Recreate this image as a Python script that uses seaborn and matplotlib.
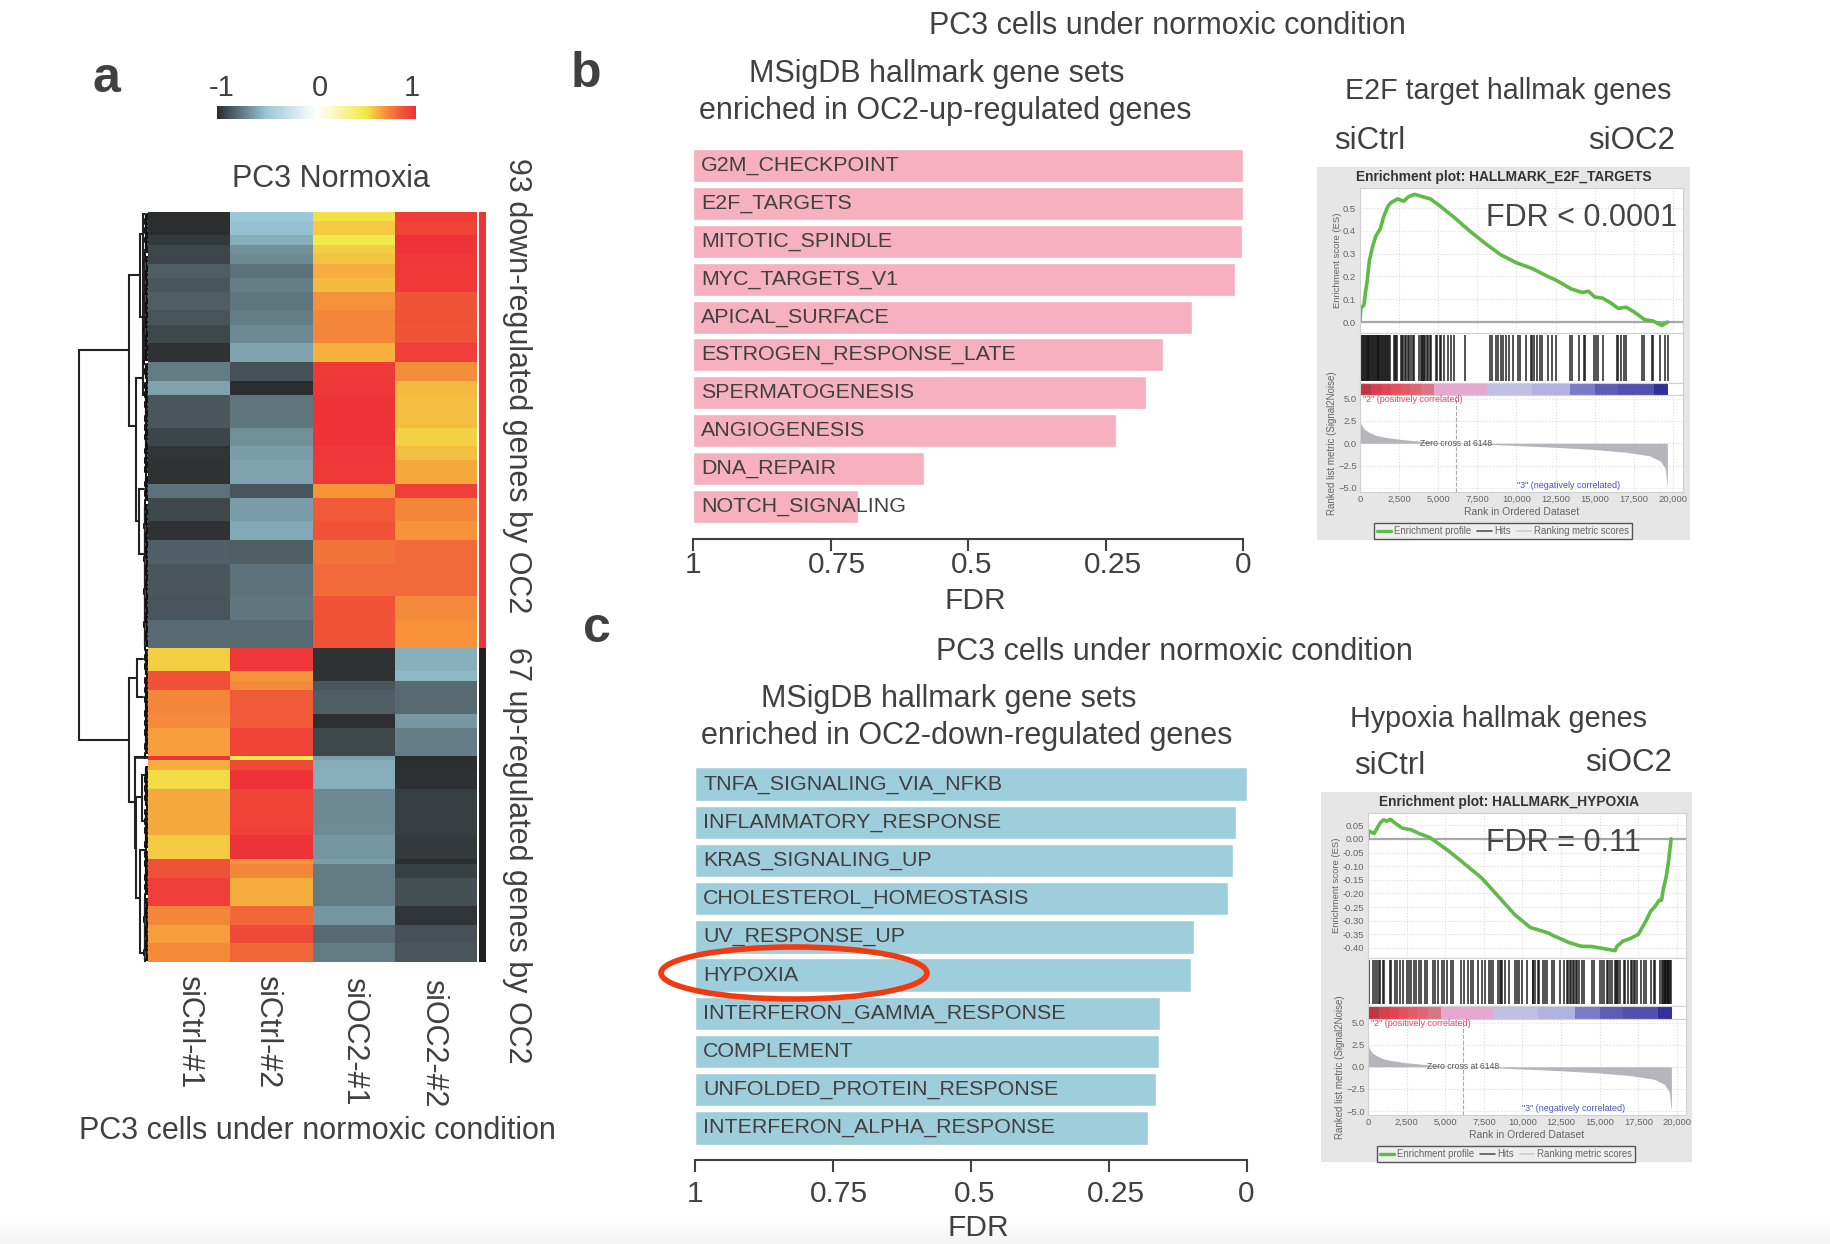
import numpy as np
import pandas as pd
import matplotlib
matplotlib.use("Agg")
import matplotlib.pyplot as plt
import seaborn as sns
from matplotlib.colors import LinearSegmentedColormap, ListedColormap
from matplotlib.lines import Line2D
from matplotlib.patches import Ellipse
from matplotlib.transforms import ScaledTranslation

# heatmap blocks, top to bottom
block_rows = [2, 3, 2, 2, 2, 3, 3, 4, 3, 4, 4,
              4, 3, 7, 4, 3, 5, 3, 5, 4, 5, 7, 5, 6,
              5, 2, 2, 5, 3, 6, 1, 2, 4, 8, 2, 5, 1, 3, 6, 4, 4, 4]
sictrl_1 = [-1, -1, -.96, -.91, -.92, -.84, -.86, -.84, -.87, -.91, -.98,
            -.75, -.62, -.86, -.92, -.97, -.98, -.78, -.91, -.98, -.83, -.86, -.87, -.8,
            .56, .88, .89, .72, .71, .66, 1, .63, .53, .64, .64, .57, .89, .88, .95, .72, .66, .71]
sictrl_2 = [-.5, -.52, -.58, -.68, -.7, -.78, -.74, -.76, -.74, -.7, -.62,
            -.88, -1, -.76, -.68, -.64, -.62, -.87, -.64, -.6, -.84, -.78, -.76, -.8,
            .98, .68, .71, .85, .85, .93, .47, .91, 1, .93, .95, 1, .68, .72, .63, .81, .91, .81]
sioc2_1 = [.52, .57, .49, .56, .58, .63, .6, .69, .72, .72, .62,
           .97, .98, 1, 1, .98, .97, .68, .85, .88, .78, .8, .88, .88,
           -.98, -.98, -.86, -.84, -.99, -.91, -.63, -.59, -.58, -.7, -.69, -.66, -.63, -.75, -.75, -.66, -.8, -.75]
sioc2_2 = [.96, .93, 1, 1, .98, .97, .97, .87, .88, .87, .95,
           .7, .6, .59, .55, .59, .64, .95, .72, .68, .8, .8, .71, .69,
           -.58, -.55, -.8, -.8, -.66, -.74, -1, -1, -.99, -.94, -.94, -.96, -1, -.93, -.89, -.97, -.88, -.86]
sample_names = ["siCtrl-#1", "siCtrl-#2", "siOC2-#1", "siOC2-#2"]
n_down = 93
n_up = 67

# dendrogram brackets: height, top child row, bottom child row, heights of the children
bracket_h = [69, 19, 8.3, 12.3, 5, 9, 19, 11, 13, 12, 5, 5, 6, 8]
bracket_y0 = [29.5, 13.5, 4.6, 35.5, 32.5, 59, 99.4, 95.4, 116.3, 124.7, 0.5, 8, 120, 136]
bracket_y1 = [112.6, 45.7, 22.4, 66, 39, 73, 125.9, 103.4, 135.7, 146.4, 9, 32, 130, 158]
bracket_h0 = [19, 8.3, 5, 5, 3, 4, 11, 5, 0, 6, 3, 3, 3, 3]
bracket_h1 = [19, 12.3, 5, 9, 4, 4, 13, 5, 12, 8, 3, 4, 3, 4]
leaf_start = [0, 9, 32, 36, 56, 62, 93, 99, 116, 118, 127, 136, 146]
leaf_end = [9, 32, 36, 56, 62, 93, 99, 116, 118, 127, 136, 146, 160]
leaf_height = [3.5, 4, 3, 3.5, 3, 4, 3, 3.5, 0, 3.5, 3.5, 3, 4]
leaf_pattern = [1.5, 3, 2, 4, 1, 3.5, 2.5]

# bar charts
up_sets = ["G2M_CHECKPOINT", "E2F_TARGETS", "MITOTIC_SPINDLE", "MYC_TARGETS_V1", "APICAL_SURFACE",
           "ESTROGEN_RESPONSE_LATE", "SPERMATOGENESIS", "ANGIOGENESIS", "DNA_REPAIR", "NOTCH_SIGNALING"]
up_fdr = [0, 0, .002, .015, .093, .145, .176, .231, .58, .70]
down_sets = ["TNFA_SIGNALING_VIA_NFKB", "INFLAMMATORY_RESPONSE", "KRAS_SIGNALING_UP", "CHOLESTEROL_HOMEOSTASIS",
             "UV_RESPONSE_UP", "HYPOXIA", "INTERFERON_GAMMA_RESPONSE", "COMPLEMENT",
             "UNFOLDED_PROTEIN_RESPONSE", "INTERFERON_ALPHA_RESPONSE"]
down_fdr = [0, .019, .025, .034, .095, .10, .157, .159, .165, .178]
fdr_ticks = [0, .25, .5, .75, 1]
fdr_labels = ["1", "0.75", "0.5", "0.25", "0"]
fdr_label_shift = [0, 6, 4, 7, 0]

# enrichment plots
e2f_rank = [0, 50, 250, 350, 450, 600, 800, 1000, 1300, 1500, 1800, 2000, 2400, 2800, 3100, 3500, 4000, 4500, 5000,
            6000, 7000, 8000, 9000, 10000, 11000, 12000, 12500, 13500, 14200, 14600, 15000, 15500, 16000, 16500,
            17000, 17500, 18200, 18700, 19300, 19650]
e2f_es = [0, .06, .075, .13, .175, .27, .33, .375, .41, .46, .51, .525, .54, .53, .55, .56, .55, .54, .515,
          .46, .40, .345, .295, .26, .235, .20, .185, .145, .13, .135, .11, .105, .085, .06,
          .065, .045, .01, .005, -.015, 0]
e2f_hits = [60, 120, 180, 240, 300, 360, 420, 480, 540, 600, 650, 720, 780, 820, 880, 940, 1000, 1060, 1120, 1180,
            1240, 1300, 1360, 1420, 1480, 1540, 1600, 1660, 1720, 1780, 1840, 1900, 2150, 2220, 2280, 2350, 2600,
            2680, 2750, 2850, 2950, 3050, 3120, 3250, 3400, 3480, 3800, 3870, 3950, 4020, 4100, 4170, 4250, 4350,
            4450, 4550, 4850, 4950, 5100, 5200, 5350, 5600, 5800, 6000, 6700, 8300, 8450, 8700, 8850, 9000, 9150,
            9300, 9500, 9800, 10100, 10250, 10600, 10900, 11000, 11150, 11300, 11500, 11600, 12000, 12250, 12500,
            13400, 13550, 14000, 14300, 14350, 14950, 15050, 15200, 15500, 16400, 16500, 16650, 16900, 17000,
            18000, 18150, 18650, 18750, 19200, 19500, 19650]
hyp_rank = [0, 30, 200, 400, 600, 800, 1000, 1200, 1450, 1700, 2200, 2800, 3300, 4000, 4500, 5190, 6000, 7350, 8500,
            9500, 10500, 11670, 12000, 13000, 13800, 14500, 15000, 15500, 16000, 16100, 16500, 17000, 17500, 17800,
            18000, 18300, 18590, 18850, 19000, 19130, 19300, 19460, 19560, 19620]
hyp_es = [0, .03, .025, .02, .04, .06, .07, .065, .072, .06, .04, .033, .02, .005, -.015, -.043, -.08, -.143, -.215,
          -.278, -.325, -.345, -.355, -.38, -.394, -.395, -.40, -.405, -.41, -.395, -.375, -.365, -.35, -.32,
          -.30, -.265, -.247, -.225, -.225, -.18, -.14, -.08, -.03, 0]
hyp_hits = [40, 350, 450, 600, 680, 800, 950, 1050, 1400, 1500, 1750, 1900, 2050, 2250, 2500, 2650, 2800, 3000, 3100,
            3300, 3450, 3700, 3850, 4200, 4350, 4500, 4800, 4950, 5100, 5400, 5500, 6000, 6200, 6500, 6650, 6800,
            7100, 7400, 7550, 7800, 7950, 8100, 8400, 8550, 8600, 8650, 8900, 9100, 9500, 9650, 9800, 10000, 10300,
            10650, 10700, 10800, 11000, 11100, 11300, 11450, 11600, 11900, 12050, 12400, 12700, 12850, 12950, 13050,
            13150, 13250, 13350, 13450, 13550, 13650, 13850, 14000, 14500, 14650, 15000, 15150, 15300, 15450, 15550,
            15650, 15800, 16000, 16050, 16100, 16200, 16300, 16550, 16650, 16800, 17000, 17100, 17200, 17300, 17400,
            17700, 17850, 18000, 18300, 18500, 18550, 18900, 19000, 19100, 19150, 19200, 19250, 19300, 19350, 19400,
            19450, 19500, 19550, 19600]
band_left = [0, 300, 700, 1400, 2000, 2600, 3200, 3900, 4700, 8100, 11000, 13400, 15000, 16500, 18800]
band_right = [300, 700, 1400, 2000, 2600, 3200, 3900, 4700, 8100, 11000, 13400, 15000, 16500, 18800, 19650]
band_colors = ["#c9303f", "#b83a48", "#d8404f", "#e04556", "#e64f5e", "#e25a68", "#df6575", "#d97585",
               "#e6a8d0", "#c0c0e4", "#b2b2de", "#7a7ac8", "#5c5cb4", "#5252ae", "#30309c"]
metric_rank = [0, 100, 300, 600, 1000, 1500, 2500, 4000, 5000, 6148, 8000, 10000, 12500, 15000, 17000, 18500, 19200,
               19500, 19640]
metric_val = [2.5, 2, 1.55, 1.2, .9, .7, .45, .2, .08, 0, -.1, -.25, -.45, -.7, -1, -1.4, -2, -2.8, -5]

W, H = 1830, 1244
INK = "#404040"
BIG = 22

sns.set_theme(style="white")
plt.rcParams["font.family"] = ["Liberation Sans", "DejaVu Sans"]
plt.rcParams["text.color"] = INK
plt.rcParams["axes.labelcolor"] = INK
plt.rcParams["xtick.color"] = INK
plt.rcParams["ytick.color"] = INK

fig = plt.figure(figsize=(W / 100, H / 100), dpi=100, facecolor="white")


def px_axes(left, top, right, bottom, **kw):
    return fig.add_axes([left / W, 1 - bottom / H, (right - left) / W, (bottom - top) / H], **kw)


def ptext(x, y, s, size=BIG, **kw):
    kw.setdefault("ha", "center")
    kw.setdefault("va", "center")
    fig.text(x / W, 1 - y / H, s, fontsize=size, **kw)


# faint shadow at the bottom edge of the screenshot
shade_ax = px_axes(0, 1215, W, H)
shade_ax.imshow([[1.0], [0.955]], cmap="gray", vmin=0, vmax=1, aspect="auto", interpolation="bicubic")
shade_ax.axis("off")

# panel a
cmap = LinearSegmentedColormap.from_list(
    "expr",
    [(0, "#2b2d2e"), (.25, "#9ac8d8"), (.5, "#ffffff"), (.75, "#f2ea48"), (.84, "#f6963a"), (.925, "#f05a38"), (1, "#ee3338")],
)
expr = pd.DataFrame({
    sample_names[0]: np.repeat(sictrl_1, block_rows),
    sample_names[1]: np.repeat(sictrl_2, block_rows),
    sample_names[2]: np.repeat(sioc2_1, block_rows),
    sample_names[3]: np.repeat(sioc2_2, block_rows),
})
heat_ax = px_axes(148, 212, 477, 962)
cbar_ax = px_axes(217, 106, 416, 119)
sns.heatmap(expr, ax=heat_ax, cmap=cmap, vmin=-1, vmax=1, xticklabels=False, yticklabels=False,
            cbar_ax=cbar_ax, cbar_kws={"orientation": "horizontal"})
heat_ax.collections[0].colorbar.outline.set_visible(False)
cbar_ax.set_xticks([])
ptext(222, 88, "-1", 21)
ptext(320, 88, "0", 21)
ptext(412, 88, "1", 21)

side_ax = px_axes(479, 212, 486, 962)
sns.heatmap(np.array([[1]] * n_down + [[0]] * n_up), ax=side_ax, cmap=ListedColormap(["#231f20", "#ee3338"]),
            cbar=False, xticklabels=False, yticklabels=False)

dend_ax = px_axes(70, 212, 148, 962)
dend_ax.set_xlim(78, 0)
dend_ax.set_ylim(160, 0)
dend_ax.axis("off")
for h, y0, y1, h0, h1 in zip(bracket_h, bracket_y0, bracket_y1, bracket_h0, bracket_h1):
    dend_ax.plot([h0, h, h, h1], [y0, y0, y1, y1], color="#222222", lw=1.5, solid_joinstyle="miter")
for start, end, h in zip(leaf_start, leaf_end, leaf_height):
    if h == 0:
        dend_ax.hlines([start + .5], 0, 13, color="#222222", lw=1.2)
        continue
    rows = np.arange(start, end) + .5
    for i, r in enumerate(rows):
        tip = min(h, leaf_pattern[(i + start) % len(leaf_pattern)])
        dend_ax.plot([0, tip, tip], [r, r, r + 1], color="#111111", lw=1.4)
    dend_ax.vlines(h, start + .5, end - .5, color="#222222", lw=.9)
    dend_ax.vlines(1.6, start + .5, end - .5, color="#111111", lw=1.8)

ptext(106, 79, "a", 36, fontweight="bold")
ptext(331, 179, "PC3 Normoxia")
ptext(517, 386, "93 down-regulated genes by OC2", rotation=270)
ptext(517, 855, "67 up-regulated genes by OC2", rotation=270)
for x, top, name in zip([189, 267, 354, 433], [975, 975, 977, 979], sample_names):
    ptext(x, top, name, rotation=270, va="top")
ptext(317, 1131, "PC3 cells under normoxic condition")


def fdr_bars(names, fdr, color, left, right, top, axis_y, row_h, pad, labelpad):
    ax = px_axes(left, top, right, axis_y)
    table = pd.DataFrame({"name": names, "score": 1 - np.array(fdr)})
    sns.barplot(data=table, x="score", y="name", ax=ax, color=color, saturation=1, width=.87, orient="h")
    ax.set_xlim(0, 1)
    ax.set_ylim((axis_y - top) / row_h - .5, -.5)
    ax.set_xticks(fdr_ticks, fdr_labels, fontsize=21.5)
    ax.set_yticks([])
    ax.set_xlabel("FDR", fontsize=21.5, labelpad=labelpad, x=.513)
    ax.set_ylabel("")
    ax.tick_params(axis="x", length=8.5, width=1.5, pad=pad, bottom=True)
    sns.despine(ax=ax, left=True)
    ax.spines["bottom"].set_linewidth(1.5)
    ax.spines["bottom"].set_color(INK)
    ax.patch.set_alpha(0)
    for i, name in enumerate(names):
        ax.text(.015, i, name, fontsize=15.4, va="center", ha="left", clip_on=False)
    # mid tick labels sit a little right of their ticks in the original
    for lab, dx in zip(ax.get_xticklabels(), fdr_label_shift):
        lab.set_transform(lab.get_transform() + ScaledTranslation(dx / 100, 0, fig.dpi_scale_trans))
    return ax


fdr_bars(up_sets, up_fdr, "#f6b0c0", 693, 1243, 146.5, 539, 37.9, .5, 5.5)
fdr_bars(down_sets, down_fdr, "#9ecddc", 695, 1246.5, 765, 1160, 38.2, 6, 4)

ptext(1167, 26, "PC3 cells under normoxic condition")
ptext(937, 74, "MSigDB hallmark gene sets")
ptext(945, 111, "enriched in OC2-up-regulated genes")
ptext(1508, 91, "E2F target hallmak genes", 20.6)
ptext(1370, 141, "siCtrl", 22.5)
ptext(1632, 141, "siOC2", 22.5)
ptext(586, 74, "b", 36, fontweight="bold")

ptext(1174, 652, "PC3 cells under normoxic condition")
ptext(949, 699, "MSigDB hallmark gene sets")
ptext(967, 736, "enriched in OC2-down-regulated genes")
ptext(1499, 719, "Hypoxia hallmak genes", 20.7)
ptext(1390, 766, "siCtrl", 22.5)
ptext(1629, 763, "siOC2", 22.5)
ptext(597, 629, "c", 36, fontweight="bold")

fig.add_artist(Ellipse((794 / W, 1 - 973 / H), 266 / W, 52 / H, fill=False, edgecolor="#f03a10", linewidth=4,
                       transform=fig.transFigure, zorder=10))


def gsea_panel(panel, xs, ys, title, rank, es, hits, xmax, es_lim, es_ticks, es_fmt, fdr_text, fdr_xy, legend_xy):
    left, top, right, bottom = panel
    bg = px_axes(left, top, right, bottom)
    bg.set_facecolor("#e6e6e6")
    bg.set_xticks([])
    bg.set_yticks([])
    sns.despine(ax=bg, left=True, bottom=True)
    ptext((xs[0] + xs[1]) / 2 - 18, top + 10, title, 9.9, fontweight="bold", color="#333333")

    # enrichment score curve
    ax = px_axes(xs[0], ys[0], xs[1], ys[1])
    sns.lineplot(x=rank, y=es, ax=ax, color="#5fbb46", lw=2.6, errorbar=None, sort=False)
    ax.axhline(0, color="#a8a8a8", lw=1.6, zorder=1)
    ax.set_xlim(0, xmax)
    ax.set_ylim(*es_lim)
    ax.set_yticks(es_ticks, [es_fmt % t for t in es_ticks], fontsize=6.8, color="#666666")
    ax.set_xticks(np.array([2500, 5000, 7500, 10000, 12500, 15000, 17500, 20000]), [])
    ax.set_ylabel("Enrichment score (ES)", fontsize=6.8, color="#666666")
    ax.yaxis.set_label_coords(-.057 if es_fmt == "%.1f" else -.086, .5)
    ax.grid(color="#dddddd", ls=":", lw=.8)
    ax.tick_params(axis="both", length=0, pad=3)

    # hit marks
    hit_ax = px_axes(xs[0], ys[1], xs[1], ys[2])
    hit_ax.vlines(hits, .04, .96, color="#111111", lw=1.2, alpha=.85)
    hit_ax.set_xlim(0, xmax)
    hit_ax.set_ylim(0, 1)
    hit_ax.set_xticks([])
    hit_ax.set_yticks([])

    # ranking colour band
    band_ax = px_axes(xs[0], ys[2], xs[1], ys[3])
    band_ax.barh(0, np.array(band_right) - np.array(band_left), left=band_left, height=1, color=band_colors, lw=0)
    band_ax.set_xlim(0, xmax)
    band_ax.set_ylim(-.5, .5)
    band_ax.set_xticks([])
    band_ax.set_yticks([])

    # ranked list metric
    met_ax = px_axes(xs[0], ys[3], xs[1], ys[4])
    met_ax.fill_between(metric_rank, metric_val, 0, color="#b5b5bb", lw=0)
    met_ax.axvline(6148, color="#aaaaaa", ls="--", lw=.8)
    met_ax.set_xlim(0, xmax)
    met_ax.set_ylim(-5.45, 5.4)
    met_ax.set_yticks([5, 2.5, 0, -2.5, -5], ["5.0", "2.5", "0.0", "\u22122.5", "\u22125.0"], fontsize=6.8, color="#666666")
    met_ax.set_xticks([0, 2500, 5000, 7500, 10000, 12500, 15000, 17500, 20000],
                      ["0", "2,500", "5,000", "7,500", "10,000", "12,500", "15,000", "17,500", "20,000"],
                      fontsize=6.8, color="#666666")
    met_ax.set_xlabel("Rank in Ordered Dataset", fontsize=7.5, color="#666666", labelpad=2.5)
    met_ax.set_ylabel("Ranked list metric (Signal2Noise)", fontsize=7, color="#666666")
    met_ax.yaxis.set_label_coords(-.072 if es_fmt == "%.1f" else -.073, .5)
    met_ax.grid(color="#dddddd", ls=":", lw=.8)
    met_ax.tick_params(axis="both", length=0, pad=2)
    met_ax.text(200, 4.9, "\"2\" (positively correlated)", fontsize=6.5, color="#e0475a", va="center")
    met_ax.text(6130, 0, "Zero cross at 6148", fontsize=6.2, color="#555555", ha="center", va="center")
    met_ax.text(13300, -4.7, "\"3\" (negatively correlated)", fontsize=6.5, color="#4a55b0", ha="center", va="center")

    for a in [ax, hit_ax, band_ax, met_ax]:
        a.patch.set_facecolor("white")
        for s in a.spines.values():
            s.set_visible(True)
            s.set_color("#d0d0d0")
            s.set_linewidth(.8)

    ptext(fdr_xy[0], fdr_xy[1], fdr_text, 22, color="#444444", zorder=8)
    handles = [Line2D([], [], color="#5fbb46", lw=2.4), Line2D([], [], color="#555555", lw=1.2),
               Line2D([], [], color="#cccccc", lw=1.2)]
    fig.legend(handles, ["Enrichment profile", "Hits", "Ranking metric scores"], ncol=3, fontsize=6.9,
               loc="center", bbox_to_anchor=(legend_xy[0] / W, 1 - legend_xy[1] / H), fancybox=False,
               edgecolor="#555555", facecolor="#eeeeee", framealpha=1, borderpad=.3, handlelength=1.5,
               handletextpad=.3, columnspacing=.6, labelcolor="#666666")


gsea_panel((1317, 167, 1690, 540), (1360, 1683), (188, 333, 383, 395, 492), "Enrichment plot: HALLMARK_E2F_TARGETS",
           e2f_rank, e2f_es, e2f_hits, 20640, (-.048, .588), [0, .1, .2, .3, .4, .5], "%.1f",
           "FDR < 0.0001", (1582, 218), (1503, 531))
gsea_panel((1321, 792, 1692, 1162), (1368, 1686), (813, 958, 1006, 1019, 1115), "Enrichment plot: HALLMARK_HYPOXIA",
           hyp_rank, hyp_es, hyp_hits, 20584, (-.437, .095),
           [.05, 0, -.05, -.1, -.15, -.2, -.25, -.3, -.35, -.4], "%.2f",
           "FDR = 0.11", (1563, 843), (1506, 1154))

fig.savefig("out.png", dpi=100)
